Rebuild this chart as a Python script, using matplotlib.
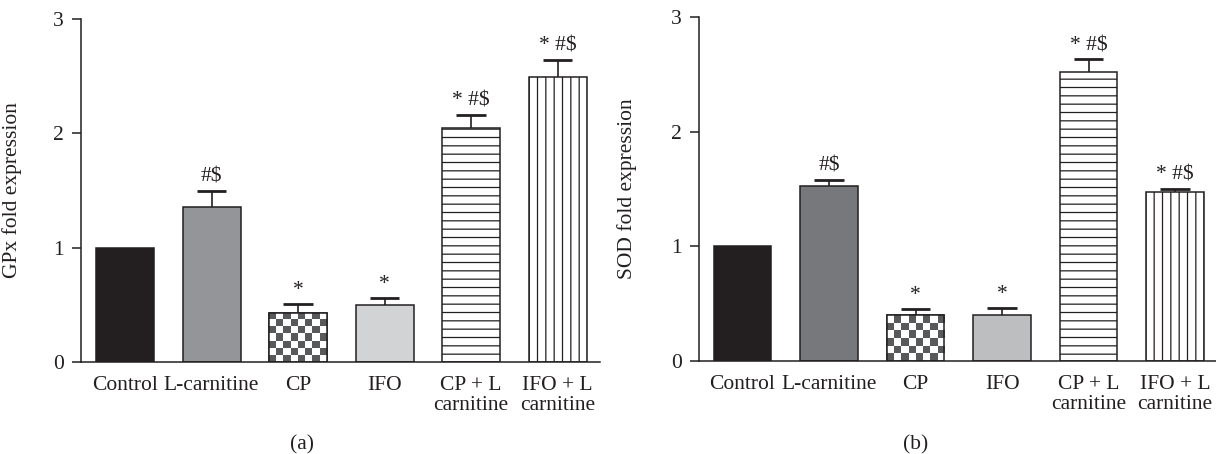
import numpy as np
import matplotlib
matplotlib.use("Agg")
import matplotlib.pyplot as plt

plt.rcParams['font.family'] = ['Liberation Serif', 'DejaVu Serif']
plt.rcParams['hatch.linewidth'] = 0.9

# data
groups = ['Control', 'L-carnitine', 'CP', 'IFO', 'CP + L\ncarnitine', 'IFO + L\ncarnitine']
gpx_mean = [1.00, 1.36, 0.43, 0.50, 2.05, 2.49]
gpx_err = [0.00, 0.14, 0.08, 0.06, 0.11, 0.15]
sod_mean = [1.00, 1.53, 0.40, 0.40, 2.52, 1.47]
sod_err = [0.00, 0.05, 0.05, 0.06, 0.11, 0.03]
gpx_marks = ['', '#$', '*', '*', '* #$', '* #$']
sod_marks = ['', '#$', '*', '*', '* #$', '* #$']

INK = '#231f20'
W, H = 1216, 454
FS = 15.5


def draw_panel(ax, means, errs, marks, colors, ylabel, xlim):
    x = np.arange(len(means))
    means = np.asarray(means)
    errs = np.asarray(errs)
    has_err = errs > 0
    # error bars (upper half only)
    ax.vlines(x[has_err], means[has_err], (means + errs)[has_err],
              color=INK, linewidth=1.2, zorder=1)
    ax.hlines((means + errs)[has_err], x[has_err] - 0.17, x[has_err] + 0.17,
              color=INK, linewidth=2.0, zorder=1)
    bars = ax.bar(x, means, width=0.67, color=colors, edgecolor=INK,
                  linewidth=1.1, zorder=2)
    bars[4].set_hatch('--')
    bars[5].set_hatch('||')

    ax.set_xlim(*xlim)
    ax.set_ylim(0, 3)

    # checkerboard fill for CP bar
    b = bars[2]
    x0, y0 = b.get_x(), b.get_y()
    w, h = b.get_width(), b.get_height()
    ny = max(1, int(round(h * (343 / 3.0) / 7.2)))
    nx = 8
    board = np.indices((ny, nx)).sum(axis=0) % 2
    cmap = matplotlib.colors.ListedColormap(['#58595b', 'white'])
    im = ax.imshow(board, cmap=cmap, extent=(x0, x0 + w, y0, y0 + h),
                   aspect='auto', interpolation='nearest', origin='lower', zorder=2.1)
    im.set_clip_path(b)
    ax.add_patch(matplotlib.patches.Rectangle((x0, y0), w, h, fill=False,
                                              edgecolor=INK, linewidth=1.1, zorder=2.2))

    for xi, m, e, t in zip(x, means, errs, marks):
        if t:
            ax.annotate(t, (xi, m + e), xytext=(0, 3), textcoords='offset points',
                        ha='center', va='bottom', fontsize=FS, color=INK)

    ax.set_xticks(x)
    ax.set_xticklabels(groups, fontsize=FS, linespacing=1.08, color=INK)
    ax.tick_params(axis='x', length=0, pad=10)
    ax.set_yticks([0, 1, 2, 3])
    ax.tick_params(axis='y', length=6.5, width=1.1, color=INK, pad=6,
                   labelsize=FS, labelcolor=INK)
    for s in ['top', 'right']:
        ax.spines[s].set_visible(False)
    for s in ['left', 'bottom']:
        ax.spines[s].set_linewidth(1.1)
        ax.spines[s].set_color(INK)
    ax.set_ylabel(ylabel, fontsize=FS, color=INK)


fig = plt.figure(figsize=(W / 100, H / 100), dpi=100)
ax1 = fig.add_axes([81 / W, 1 - 362 / H, 519 / W, 343 / H])
ax2 = fig.add_axes([699 / W, 1 - 361 / H, 517 / W, 344 / H])

draw_panel(ax1, gpx_mean, gpx_err, gpx_marks,
           [INK, '#939598', 'white', '#d1d3d4', 'white', 'white'],
           'GPx fold expression', (-0.51, 5.49))
draw_panel(ax2, sod_mean, sod_err, sod_marks,
           [INK, '#77787b', 'white', '#bcbec0', 'white', 'white'],
           'SOD fold expression', (-0.503, 5.474))
ax1.yaxis.set_label_coords(-0.114, 0.5)
ax2.yaxis.set_label_coords(-0.12, 0.5)

fig.text(302 / W, 1 - 445 / H, '(a)', ha='center', va='center', fontsize=FS, color=INK)
fig.text(916 / W, 1 - 445 / H, '(b)', ha='center', va='center', fontsize=FS, color=INK)

fig.savefig('out.png', dpi=100)
